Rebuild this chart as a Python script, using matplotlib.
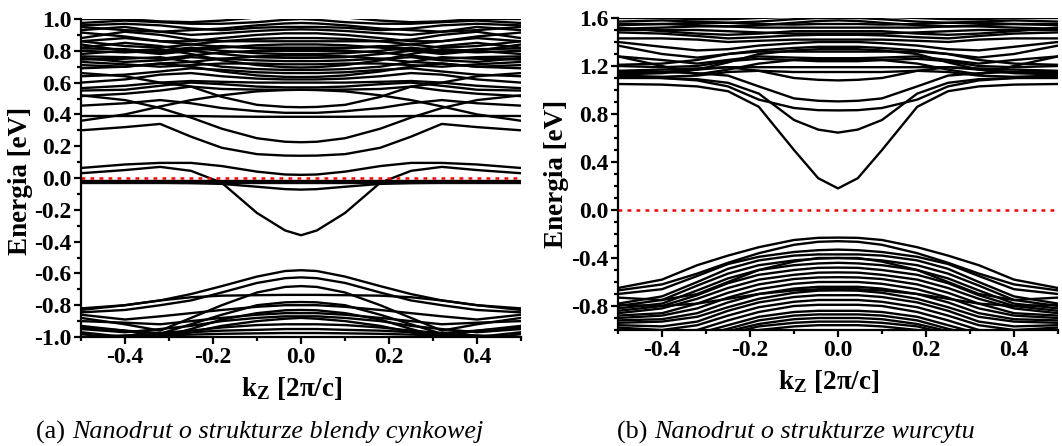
import matplotlib
matplotlib.use("Agg")
import matplotlib.pyplot as plt
from matplotlib.ticker import MultipleLocator, FormatStrFormatter

plt.rcParams["font.family"] = "Liberation Serif"
plt.rcParams["mathtext.fontset"] = "custom"
plt.rcParams["mathtext.bf"] = "Liberation Serif:bold"
plt.rcParams["mathtext.rm"] = "Liberation Serif:bold"
plt.rcParams["axes.unicode_minus"] = False

# band energies [eV] read at k >= 0, mirrored to k < 0
k_half_a = [0.0, 0.036, 0.1, 0.18, 0.25, 0.32, 0.4, 0.5]
bands_a_gap = [
    [-0.36, -0.33, -0.22, -0.03, 0.045, 0.07, 0.05, 0.03],
    [-0.073, -0.07, -0.055, -0.037, -0.032, -0.03, -0.03, -0.03],
    [-0.018, -0.018, -0.018, -0.018, -0.018, -0.018, -0.018, -0.018],
    [-0.03, -0.03, -0.03, -0.03, -0.03, -0.03, -0.03, -0.03],
    [0.02, 0.022, 0.04, 0.075, 0.095, 0.095, 0.085, 0.063],
    [0.14, 0.141, 0.15, 0.19, 0.26, 0.34, 0.32, 0.30],
    [0.225, 0.228, 0.25, 0.31, 0.38, 0.44, 0.49, 0.52],
    [0.385, 0.385, 0.385, 0.387, 0.39, 0.39, 0.39, 0.39],
    [0.41, 0.41, 0.42, 0.44, 0.47, 0.49, 0.47, 0.455],
    [0.445, 0.447, 0.46, 0.51, 0.575, 0.55, 0.53, 0.515],
    [0.555, 0.553, 0.545, 0.52, 0.49, 0.45, 0.40, 0.36],
]
bands_a_upper = [
    [0.555, 0.555, 0.556, 0.56, 0.575, 0.60, 0.64, 0.66],
    [0.57, 0.57, 0.575, 0.59, 0.60, 0.58, 0.555, 0.55],
    [0.60, 0.60, 0.60, 0.605, 0.61, 0.60, 0.58, 0.565],
    [0.62, 0.62, 0.625, 0.64, 0.66, 0.65, 0.62, 0.60],
    [0.635, 0.636, 0.645, 0.67, 0.70, 0.72, 0.70, 0.69],
    [0.66, 0.66, 0.665, 0.68, 0.69, 0.67, 0.65, 0.64],
    [0.68, 0.68, 0.685, 0.70, 0.73, 0.76, 0.75, 0.745],
    [0.695, 0.697, 0.71, 0.74, 0.78, 0.81, 0.80, 0.78],
    [0.715, 0.715, 0.72, 0.72, 0.71, 0.70, 0.715, 0.73],
    [0.735, 0.735, 0.74, 0.75, 0.76, 0.74, 0.73, 0.755],
    [0.755, 0.756, 0.76, 0.78, 0.80, 0.83, 0.85, 0.82],
    [0.77, 0.77, 0.765, 0.75, 0.73, 0.72, 0.70, 0.71],
    [0.78, 0.78, 0.785, 0.80, 0.82, 0.80, 0.79, 0.80],
    [0.80, 0.80, 0.80, 0.79, 0.77, 0.75, 0.76, 0.765],
    [0.81, 0.81, 0.815, 0.83, 0.81, 0.79, 0.81, 0.815],
    [0.82, 0.82, 0.82, 0.825, 0.84, 0.86, 0.88, 0.86],
    [0.84, 0.84, 0.835, 0.82, 0.80, 0.78, 0.80, 0.84],
    [0.86, 0.86, 0.86, 0.86, 0.87, 0.90, 0.92, 0.88],
    [0.88, 0.88, 0.875, 0.86, 0.84, 0.82, 0.83, 0.86],
    [0.91, 0.91, 0.90, 0.88, 0.86, 0.86, 0.89, 0.915],
    [0.935, 0.933, 0.925, 0.91, 0.90, 0.92, 0.95, 0.93],
    [0.95, 0.95, 0.945, 0.93, 0.94, 0.96, 0.97, 0.96],
    [0.975, 0.972, 0.96, 0.94, 0.93, 0.92, 0.93, 0.95],
    [1.0, 0.995, 0.98, 0.97, 0.97, 0.98, 0.99, 0.975],
    [1.02, 1.02, 1.01, 0.99, 0.98, 0.985, 1.0, 1.0],
]
bands_a_valence = [
    [-0.58, -0.585, -0.62, -0.68, -0.73, -0.77, -0.80, -0.82],
    [-0.625, -0.63, -0.66, -0.72, -0.77, -0.80, -0.83, -0.845],
    [-0.68, -0.685, -0.72, -0.80, -0.88, -0.96, -0.92, -0.88],
    [-0.735, -0.735, -0.737, -0.74, -0.75, -0.77, -0.80, -0.83],
    [-0.78, -0.782, -0.80, -0.86, -0.92, -0.98, -1.0, -0.97],
    [-0.80, -0.80, -0.81, -0.83, -0.85, -0.87, -0.89, -0.86],
    [-0.83, -0.832, -0.85, -0.89, -0.95, -1.0, -0.96, -0.93],
    [-0.85, -0.85, -0.86, -0.88, -0.90, -0.92, -0.91, -0.90],
    [-0.87, -0.87, -0.88, -0.90, -0.93, -0.95, -0.97, -0.95],
    [-0.88, -0.885, -0.90, -0.93, -0.97, -1.01, -1.02, -0.98],
    [-0.92, -0.92, -0.925, -0.94, -0.96, -0.975, -0.96, -0.94],
    [-0.95, -0.95, -0.955, -0.96, -0.97, -0.98, -0.99, -1.0],
    [-0.975, -0.975, -0.977, -0.98, -0.985, -0.99, -0.995, -1.0],
]

k_half_b = [0.0, 0.045, 0.1, 0.18, 0.25, 0.32, 0.4, 0.5]
bands_b_cond = [
    [0.18, 0.265, 0.50, 0.86, 0.99, 1.03, 1.045, 1.05],
    [0.645, 0.67, 0.75, 0.97, 1.06, 1.09, 1.10, 1.10],
    [0.83, 0.832, 0.85, 0.92, 1.03, 1.08, 1.10, 1.12],
    [0.905, 0.91, 0.93, 1.03, 1.12, 1.14, 1.15, 1.14],
    [1.08, 1.085, 1.10, 1.16, 1.19, 1.17, 1.14, 1.13],
    [1.19, 1.19, 1.19, 1.19, 1.19, 1.18, 1.17, 1.16],
    [1.15, 1.15, 1.15, 1.16, 1.15, 1.12, 1.11, 1.12],
    [1.24, 1.24, 1.25, 1.26, 1.24, 1.20, 1.19, 1.20],
    [1.25, 1.25, 1.25, 1.22, 1.17, 1.13, 1.20, 1.28],
    [1.265, 1.265, 1.27, 1.28, 1.25, 1.22, 1.25, 1.28],
    [1.32, 1.32, 1.32, 1.32, 1.30, 1.27, 1.30, 1.37],
    [1.34, 1.34, 1.33, 1.30, 1.23, 1.17, 1.15, 1.15],
    [1.36, 1.36, 1.35, 1.33, 1.30, 1.25, 1.22, 1.21],
    [1.40, 1.40, 1.39, 1.37, 1.34, 1.33, 1.36, 1.40],
    [1.42, 1.42, 1.42, 1.41, 1.40, 1.42, 1.43, 1.43],
    [1.46, 1.46, 1.455, 1.44, 1.43, 1.45, 1.47, 1.48],
    [1.47, 1.47, 1.47, 1.48, 1.49, 1.50, 1.50, 1.50],
    [1.49, 1.49, 1.49, 1.47, 1.46, 1.47, 1.49, 1.52],
    [1.52, 1.52, 1.52, 1.52, 1.53, 1.53, 1.52, 1.51],
    [1.55, 1.55, 1.545, 1.55, 1.56, 1.56, 1.55, 1.55],
    [1.58, 1.575, 1.56, 1.54, 1.53, 1.54, 1.55, 1.54],
    [1.60, 1.60, 1.59, 1.57, 1.56, 1.57, 1.58, 1.57],
    [1.62, 1.62, 1.61, 1.60, 1.59, 1.59, 1.60, 1.60],
]
bands_b_valence = [
    [-0.23, -0.232, -0.25, -0.31, -0.38, -0.46, -0.58, -0.65],
    [-0.26, -0.265, -0.29, -0.36, -0.44, -0.53, -0.62, -0.67],
    [-0.33, -0.335, -0.35, -0.39, -0.45, -0.55, -0.66, -0.70],
    [-0.37, -0.37, -0.38, -0.42, -0.49, -0.60, -0.72, -0.78],
    [-0.40, -0.40, -0.43, -0.50, -0.60, -0.70, -0.75, -0.73],
    [-0.40, -0.405, -0.42, -0.46, -0.53, -0.63, -0.75, -0.80],
    [-0.44, -0.445, -0.46, -0.50, -0.57, -0.67, -0.78, -0.82],
    [-0.48, -0.482, -0.50, -0.54, -0.61, -0.71, -0.80, -0.84],
    [-0.52, -0.522, -0.54, -0.58, -0.65, -0.74, -0.82, -0.86],
    [-0.56, -0.562, -0.575, -0.62, -0.69, -0.78, -0.86, -0.88],
    [-0.60, -0.60, -0.615, -0.66, -0.73, -0.82, -0.88, -0.90],
    [-0.64, -0.64, -0.655, -0.70, -0.77, -0.86, -0.91, -0.92],
    [-0.66, -0.66, -0.67, -0.70, -0.74, -0.78, -0.80, -0.79],
    [-0.67, -0.672, -0.69, -0.74, -0.81, -0.89, -0.93, -0.94],
    [-0.71, -0.71, -0.725, -0.77, -0.84, -0.93, -0.97, -0.96],
    [-0.75, -0.75, -0.765, -0.81, -0.88, -0.96, -1.0, -0.98],
    [-0.79, -0.79, -0.80, -0.85, -0.92, -1.0, -1.02, -1.0],
    [-0.84, -0.84, -0.85, -0.89, -0.96, -1.03, -1.05, -1.02],
    [-0.87, -0.87, -0.88, -0.92, -0.99, -1.05, -1.06, -1.04],
    [-0.90, -0.90, -0.91, -0.95, -1.01, -1.06, -1.07, -1.05],
    [-0.93, -0.93, -0.94, -0.97, -1.03, -1.08, -1.08, -1.06],
    [-0.96, -0.96, -0.97, -1.0, -1.05, -1.1, -1.1, -1.08],
]

captions = [("(a) ", "Nanodrut o strukturze blendy cynkowej"),
            ("(b) ", "Nanodrut o strukturze wurcytu")]


def mirror(k_half, e_half):
    k = [-v for v in k_half[::-1]] + k_half[1:]
    e = e_half[::-1] + e_half[1:]
    return k, e


def draw_panel(ax, k_half, groups, ylim, ymajor):
    for group in groups:
        for band in group:
            k, e = mirror(k_half, band)
            ax.plot(k, e, color="black", lw=1.7, solid_joinstyle="round")
    ax.axhline(0.0, color="red", lw=1.8, linestyle=(0, (1.5, 2.1)))
    ax.set_xlim(-0.5, 0.5)
    ax.set_ylim(*ylim)
    for side in ("top", "right"):
        ax.spines[side].set_visible(False)
    for side in ("left", "bottom"):
        ax.spines[side].set_linewidth(1.6)
    ax.xaxis.set_major_locator(MultipleLocator(0.2))
    ax.xaxis.set_minor_locator(MultipleLocator(0.1))
    ax.yaxis.set_major_locator(MultipleLocator(ymajor))
    ax.yaxis.set_minor_locator(MultipleLocator(0.1))
    ax.xaxis.set_major_formatter(FormatStrFormatter("%.1f"))
    ax.yaxis.set_major_formatter(FormatStrFormatter("%.1f"))
    ax.tick_params(which="major", direction="out", length=5, width=1.6,
                   labelsize=17, pad=2)
    ax.tick_params(which="minor", direction="out", length=3, width=1.6)
    ax.set_xlabel(r"$\mathbf{k_Z}$ [2π/c]", fontsize=19.5, fontweight="bold")
    ax.set_ylabel("Energia [eV]", fontsize=19.5, fontweight="bold")


fig = plt.figure(figsize=(10.62, 4.46), dpi=100)
W, H = 1062.0, 446.0

ax_a = fig.add_axes([81 / W, 1 - 337 / H, 440 / W, 318 / H])
draw_panel(ax_a, k_half_a, [bands_a_gap, bands_a_upper, bands_a_valence],
           (-1.0, 1.0), 0.2)
ax_a.set_yticks([-1.0, -0.8, -0.6, -0.4, -0.2, 0.0, 0.2, 0.4, 0.6, 0.8, 1.0])
ax_a.yaxis.set_label_coords(-0.109, 0.49)
ax_a.xaxis.set_label_coords(0.48, -0.12)

ax_b = fig.add_axes([618 / W, 1 - 330 / H, 440 / W, 312 / H])
draw_panel(ax_b, k_half_b, [bands_b_cond, bands_b_valence], (-1.0, 1.6), 0.4)
ax_b.set_yticks([-0.8, -0.4, 0.0, 0.4, 0.8, 1.2, 1.6])
ax_b.yaxis.set_label_coords(-0.111, 0.5)
ax_b.xaxis.set_label_coords(0.48, -0.122)

for ax in (ax_a, ax_b):
    for lab in ax.get_xticklabels() + ax.get_yticklabels():
        lab.set_fontweight("bold")

cap_pos = [(36, 72), (617, 654)]
for (tag, body), (x0, x1) in zip(captions, cap_pos):
    fig.text(x0 / W, 1 - 432 / H, tag, fontsize=18.8, va="center", ha="left")
    fig.text(x1 / W, 1 - 432 / H, body, fontsize=18.8, style="italic",
             va="center", ha="left")

fig.savefig("out.png", dpi=100)
